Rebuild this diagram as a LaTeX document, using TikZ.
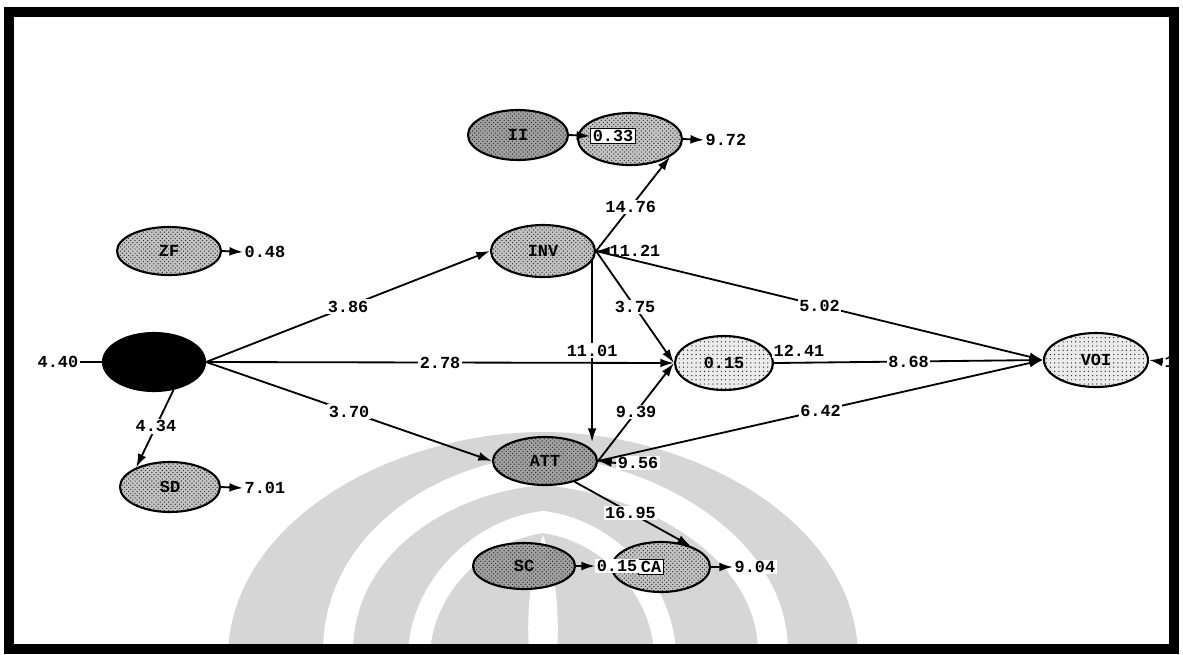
\documentclass[tikz,border=0pt]{standalone}
\usepackage{fontspec}
\setmonofont{Liberation Mono}
\usepackage{tikz}
\usetikzlibrary{shapes.geometric,arrows.meta,patterns,calc}
\definecolor{markc}{HTML}{D6D6D6}
\definecolor{stipc}{HTML}{9C9C9C}
\tikzset{
  latent/.style={ellipse, draw, line width=1.5pt, inner sep=0pt,
    minimum width=2.6cm, minimum height=1.25cm,
    preaction={fill=stipc!60}, pattern=crosshatch dots, pattern color=black!80,
    font=\ttfamily\bfseries\fontsize{12}{13}\selectfont},
  latentdark/.style={latent, preaction={fill=stipc!95}},
  latentlight/.style={latent, preaction={fill=stipc!20}, pattern=dots},
  exo/.style={ellipse, draw, fill=black, line width=1.5pt,
    minimum width=2.55cm, minimum height=1.45cm},
  coef/.style={fill=white, inner sep=1pt,
    font=\ttfamily\bfseries\fontsize{12}{13}\selectfont},
  coefbox/.style={coef, draw, line width=0.6pt, inner sep=1.5pt},
  link/.style={draw, line width=1.3pt, -{Latex[length=3.4mm,width=2.2mm]}},
  plainlink/.style={draw, line width=1.3pt},
}

\begin{document}
\begin{tikzpicture}[x=0.025cm, y=-0.025cm]
\useasboundingbox (0,0) rectangle (1183,654);

% faint emblem behind the diagram
\fill[markc] (228,650) .. controls (236,515) and (400,432) .. (543,432) .. controls (686,432) and (850,515) .. (858,650) -- cycle;
\draw[white, line width=0.75cm] (338,652) .. controls (338,545) and (440,478) .. (543,470) .. controls (646,478) and (773,545) .. (773,652);
\draw[white, line width=0.55cm] (419,652) .. controls (423,585) and (480,530) .. (543,522) .. controls (606,530) and (661,585) .. (665,652);
\fill[white] (543,535) .. controls (528,580) and (527,620) .. (529,652) -- (557,652) .. controls (559,620) and (558,580) .. (543,535);

% latent variables
\node[latentdark, minimum width=2.5cm] (ii) at (518,135) {II};
\node[latent, minimum height=1.3cm] (iu) at (630,139) {};
\node[coefbox] (gii) at (613,136) {0.33};
\node[coef, anchor=west] (eiu) at (704,140) {9.72};

\node[latent, minimum height=1.2cm] (zf) at (169,251) {ZF};
\node[coef, anchor=west] (ezf) at (243,252) {0.48};

\node[exo] (ex) at (154,362) {};
\node[coef] (eex) at (58,362) {4.40};

\node[latent, minimum width=2.5cm] (sd) at (170,487) {SD};
\node[coef, anchor=west] (esd) at (243,488) {7.01};

\node[latent, minimum height=1.3cm] (inv) at (543,251) {INV};
\node[coef] (einv) at (635,251) {11.21};

\node[latentlight, minimum width=2.45cm, minimum height=1.35cm] (mid) at (724,363) {0.15};
\node[coef] (emid) at (799,351) {12.41};

\node[latentdark, minimum height=1.2cm] (att) at (545,461) {ATT};
\node[coef] (eatt) at (638,463) {9.56};

\node[latentlight, minimum height=1.35cm] (voi) at (1096,360) {VOI};
\node[coef, anchor=west] (evoi) at (1163,362) {1};

\node[latentdark, minimum width=2.55cm, minimum height=1.15cm] (sc) at (524,566) {SC};
\node[latent, minimum width=2.45cm] (ca) at (661,567) {};
\node[coefbox] (cabox) at (651,567) {CA};
\node[coef] (gsc) at (617,566) {0.15};
\node[coef, anchor=west] (eca) at (733,567) {9.04};

% paths out of the black variable
\draw[plainlink] (eex) -- (ex.west);
\draw[link] (ex.east) -- node[coef]{3.86} (inv.west);
\draw[link] (ex.east) -- node[coef]{2.78} (mid.west);
\draw[link] (ex.east) -- node[coef]{3.70} (att.west);
\draw[link] (ex.-55) -- node[coef, pos=0.47]{4.34} (sd.150);

% paths out of INV
\coordinate (drop) at ($(inv.east)+(-4,8)$);
\draw[link] (drop) -- node[coef]{11.01} ($(drop |- att.north)+(0,6)$);
\draw[link] (inv.east) -- node[coef, pos=0.47]{14.76} (iu.-24);
\draw[link] (inv.east) -- node[coef]{5.02} (voi.west);
\draw[link] (inv.east) -- node[coef]{3.75} (mid.west);

% paths out of ATT and the middle variable
\draw[link] (att.east) -- node[coef]{9.39} (mid.west);
\draw[link] (att.east) -- node[coef]{6.42} (voi.west);
\draw[link] (att.-35) -- node[coef, pos=0.48]{16.95} (ca.35);
\draw[link] (mid.east) -- node[coef]{8.68} (voi.west);

% indicators and error terms
\draw[link] (ii.east) -- (gii.west);
\draw[link] (sc.east) -- (gsc.west);
\draw[link] (iu.east) -- (eiu.west);
\draw[link] (zf.east) -- (ezf.west);
\draw[link] (sd.east) -- (esd.west);
\draw[link] (ca.east) -- (eca.west);
\draw[link] (einv.west) -- (inv.east);
\draw[link] (eatt.west) -- (att.east);
\draw[link] (evoi.west) -- (voi.east);

% frame
\draw[line width=7pt] (9,12) rectangle (1174,649);
\end{tikzpicture}
\end{document}
